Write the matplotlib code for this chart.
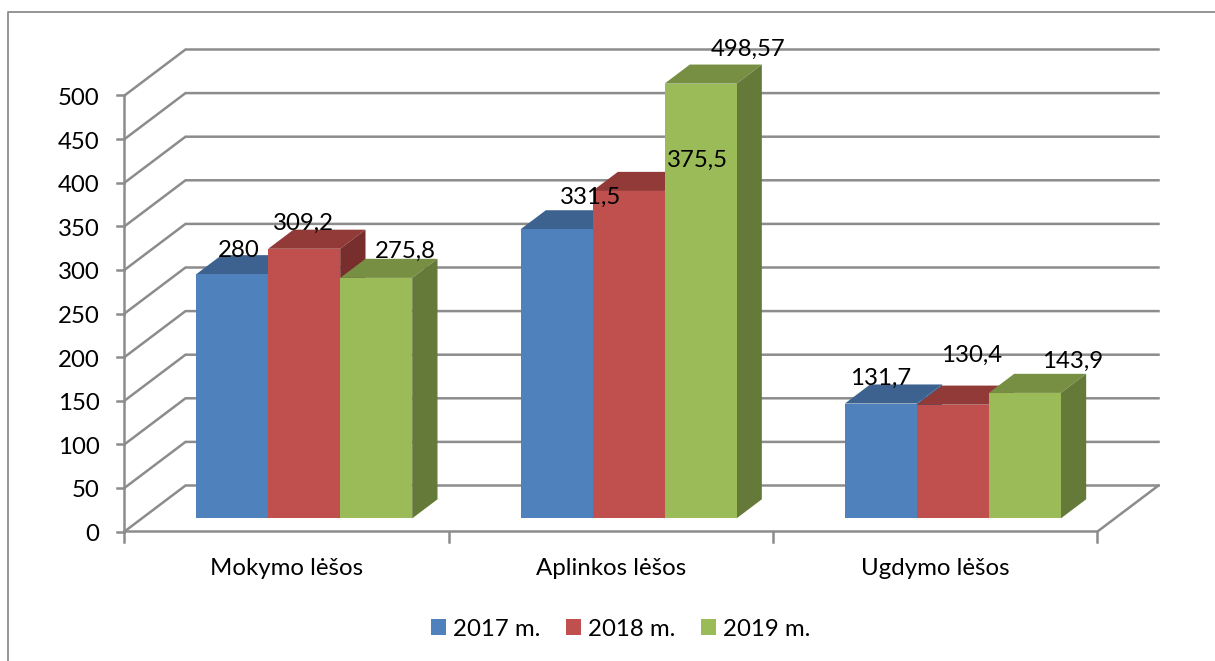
import matplotlib
matplotlib.use("Agg")
import matplotlib.pyplot as plt
from matplotlib.patches import Patch, Polygon

categories = ["Mokymo lėšos", "Aplinkos lėšos", "Ugdymo lėšos"]
years = ["2017 m.", "2018 m.", "2019 m."]
v2017 = [280, 331.5, 131.7]
v2018 = [309.2, 375.5, 130.4]
v2019 = [275.8, 498.57, 143.9]
value_labels = [["280", "331,5", "131,7"], ["309,2", "375,5", "130,4"], ["275,8", "498,57", "143,9"]]
y_ticks = list(range(0, 501, 50))

# label shifts from top centre of the bar front, in pixels
label_dx = [[7, 34, 0], [-1, 69, 19], [29, 48, 48]]
label_dy = [[26, 34, 27], [27, 33, 51], [29, 36, 34]]

front_col = ["#4F81BD", "#C0504D", "#9BBB59"]
top_col = ["#3E628F", "#913A38", "#778F43"]
side_col = ["#3A5F8C", "#772E2C", "#657A38"]
grid_col = "#8C8C8C"

W, H = 1215, 661
FS = 17.3
plt.rcParams["font.family"] = ["Lato", "DejaVu Sans"]
fig = plt.figure(figsize=(W / 100, H / 100), dpi=100)
ax = fig.add_axes([0, 0, 1, 1])

# x unit = one category, y unit = value; axis origin sits at pixel (124, 531)
px_x = 973 / 3
px_y = 436 / 500
ax.set_xlim(-124.5 / px_x, (W - 124.5) / px_x)
ax.set_ylim(-(H - 531.5) / px_y, 531.5 / px_y)
ax.axis("off")

wall_dx = 61 / px_x
wall_dy = 46 / px_y
bar_w = 72 / px_x
gap = 54.3 / px_x
d0 = 0.285  # how far into the depth the bars start
d1 = 0.70


def shift(x, y, d):
    return x + d * wall_dx, y + d * wall_dy


# back wall and side lines
for v in y_ticks:
    ax.plot([0, wall_dx, 3 + wall_dx], [v, v + wall_dy, v + wall_dy], color=grid_col, lw=1.8, zorder=1, solid_joinstyle="miter")
    ax.plot([-7 / px_x, 0], [v, v], color=grid_col, lw=1.8, zorder=1)
ax.plot([0, 0], [0, 500], color=grid_col, lw=1.8, zorder=1)
ax.plot([0, 3, 3 + wall_dx], [0, 0, wall_dy], color=grid_col, lw=1.8, zorder=1)
for i in range(4):
    ax.plot([i, i], [0, -10 / px_y], color=grid_col, lw=1.8, zorder=1)

for v in y_ticks:
    ax.text(-25 / px_x, v - 1 / px_y, str(v), ha="right", va="center_baseline", fontsize=FS, color="black")
for i, c in enumerate(categories):
    ax.text(i + 0.5, -35 / px_y, c, ha="center", va="center_baseline", fontsize=FS, color="black")

# bars, left to right so later ones cover the sides of earlier ones
series = [v2017, v2018, v2019]
for i in range(3):
    for j in range(3):
        v = series[j][i]
        x0 = i + gap + j * bar_w
        x1 = x0 + bar_w
        fx0, fy0 = shift(x0, 0, d0)
        fx1, _ = shift(x1, 0, d0)
        ftop = fy0 + v
        bx0, by0 = shift(x0, 0, d1)
        bx1, _ = shift(x1, 0, d1)
        btop = by0 + v
        z = 2 + i * 3 + j
        ax.bar(fx0, v, width=fx1 - fx0, bottom=fy0, align="edge", color=front_col[j], lw=0, zorder=z + 0.2)
        ax.add_patch(Polygon([(fx0, ftop), (fx1, ftop), (bx1, btop), (bx0, btop)], color=top_col[j], lw=0, zorder=z))
        ax.add_patch(Polygon([(fx1, fy0), (fx1, ftop), (bx1, btop), (bx1, by0)], color=side_col[j], lw=0, zorder=z))
        ax.annotate(value_labels[j][i], ((fx0 + fx1) / 2, ftop), xytext=(label_dx[j][i], label_dy[j][i]),
                    textcoords="offset pixels", ha="center", va="center_baseline", fontsize=FS, color="black", zorder=50)

handles = [Patch(facecolor=c, edgecolor="none") for c in front_col]
ax.legend(handles, years, loc="center", bbox_to_anchor=(621 / W, 1 - 629 / H), ncol=3, frameon=False,
          fontsize=FS, handlelength=0.62, handleheight=0.62, handletextpad=0.3, columnspacing=1.06,
          labelspacing=0, borderpad=0)

# chart frame
fig.add_artist(plt.Line2D([8 / W, 8 / W, 1], [0, 1 - 12 / H, 1 - 12 / H], color=grid_col, lw=1.3))

fig.savefig("out.png", dpi=100)
